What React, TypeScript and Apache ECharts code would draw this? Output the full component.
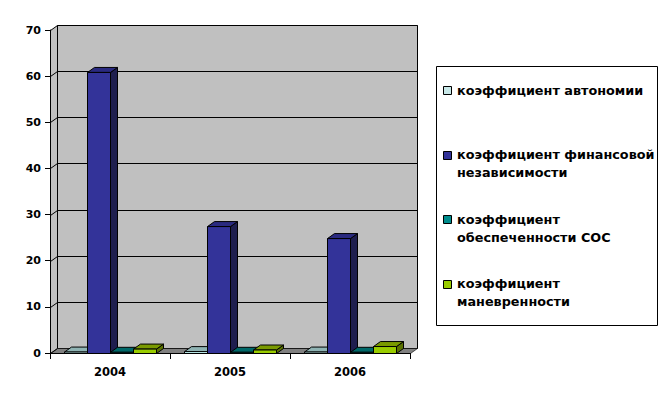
import React, { useEffect, useRef } from "react";
import * as echarts from "echarts";

const categories = ["2004", "2005", "2006"];
const yTicks = [0, 10, 20, 30, 40, 50, 60, 70];
const seriesNames = [
  "коэффициент автономии",
  "коэффициент финансовой\nнезависимости",
  "коэффициент\nобеспеченности СОС",
  "коэффициент\nманевренности",
];
const autonomy = [0.2, 0.3, 0.2];
const finIndependence = [60.8, 27.4, 24.8];
const sosProvision = [0.15, 0.15, 0.15];
const maneuverability = [0.85, 0.65, 1.4];

const seriesValues = [autonomy, finIndependence, sosProvision, maneuverability];
const faceColors = [
  { front: "#CCFFFF", top: "#8FB3B3", side: "#6F9393", legend: "#C8E8E8" },
  { front: "#333399", top: "#2A2A80", side: "#1E1E4E", legend: "#333399" },
  { front: "#008080", top: "#006868", side: "#004C4C", legend: "#008C8C" },
  { front: "#99CC00", top: "#7A9A00", side: "#5A7200", legend: "#99CC00" },
];

const DX = 7;
const DY = 5;
const FONT = "DejaVu Sans";

export default function App() {
  const ref = useRef<HTMLDivElement>(null);
  useEffect(() => {
    if (!ref.current) return;
    const chart = echarts.init(ref.current, null, { renderer: "svg" });

    const wallSeries = {
      type: "custom",
      name: "wall",
      z: 0,
      silent: true,
      data: [[0, 0]],
      renderItem: (params: any, api: any) => {
        const cs = params.coordSys;
        const x0 = Math.round(cs.x) + 0.5;
        const x1 = Math.round(cs.x + cs.width) + 0.5;
        const yTop = Math.round(api.coord([0, yTicks[yTicks.length - 1]])[1]) + 0.5;
        const yBot = Math.round(api.coord([0, 0])[1]) + 0.5;
        const children: any[] = [];
        children.push({
          type: "polygon",
          shape: { points: [[x0, yTop], [x0 + DX, yTop - DY], [x0 + DX, yBot - DY], [x0, yBot]] },
          style: { fill: "#C0C0C0", stroke: null },
        });
        children.push({
          type: "rect",
          shape: { x: x0 + DX, y: yTop - DY, width: x1 - x0, height: yBot - yTop },
          style: { fill: "#C0C0C0", stroke: "#000", lineWidth: 1 },
        });
        children.push({
          type: "polygon",
          shape: { points: [[x0, yBot], [x0 + DX, yBot - DY], [x1 + DX, yBot - DY], [x1, yBot]] },
          style: { fill: "#808080", stroke: "#000", lineWidth: 0.6 },
        });
        yTicks.forEach((v) => {
          const y = Math.round(api.coord([0, v])[1]) + 0.5;
          children.push({
            type: "line",
            shape: { x1: x0, y1: y, x2: x0 + DX, y2: y - DY },
            style: { stroke: "#000", lineWidth: 1 },
          });
          if (v !== 0) {
            children.push({
              type: "line",
              shape: { x1: x0 + DX, y1: y - DY, x2: x1 + DX, y2: y - DY },
              style: { stroke: "#000", lineWidth: 1 },
            });
          }
        });
        return { type: "group", children };
      },
    };

    const barSeries = seriesValues.map((vals, si) => ({
      type: "custom",
      name: seriesNames[si],
      z: 3,
      data: vals.map((v, ci) => [ci, v]),
      renderItem: (_params: any, api: any) => {
        const ci = api.value(0);
        const v = api.value(1);
        const [cx, yv0] = api.coord([ci, v]);
        const y0 = Math.round(api.coord([ci, 0])[1]) + 0.5;
        const yv = Math.min(yv0, y0 - 0.2);
        const catW = api.size([1, 0])[0];
        const bw = catW * 0.19;
        const left = Math.round(cx + (si - 2) * bw) + 0.5;
        const right = Math.round(cx + (si - 1) * bw) + 0.5;
        const c = faceColors[si];
        const stroke = { stroke: "#000", lineWidth: 1, lineJoin: "miter" };
        return {
          type: "group",
          children: [
            {
              type: "polygon",
              shape: { points: [[right, yv], [right + DX, yv - DY], [right + DX, y0 - DY], [right, y0]] },
              style: { fill: c.side, ...stroke },
            },
            {
              type: "polygon",
              shape: { points: [[left, yv], [right, yv], [right + DX, yv - DY], [left + DX, yv - DY]] },
              style: { fill: c.top, ...stroke },
            },
            {
              type: "rect",
              shape: { x: left, y: yv, width: right - left, height: y0 - yv },
              style: { fill: c.front, ...stroke },
            },
          ],
        };
      },
    }));

    const legendX = 436;
    const legendLine1 = [90, 154.5, 219, 283.5];
    const legendGraphics: any[] = [
      {
        type: "rect",
        shape: { x: 436.5, y: 66.5, width: 221, height: 259 },
        style: { fill: "#fff", stroke: "#000", lineWidth: 1 },
      },
    ];
    seriesNames.forEach((name, i) => {
      const cy = legendLine1[i];
      legendGraphics.push({
        type: "rect",
        shape: { x: legendX + 7.5, y: Math.round(cy - 4) + 0.5, width: 8, height: 8 },
        style: { fill: faceColors[i].legend, stroke: "#000", lineWidth: 1 },
      });
      legendGraphics.push({
        type: "text",
        x: legendX + 21,
        y: cy - 9,
        style: {
          text: name,
          fill: "#000",
          fontFamily: FONT,
          fontWeight: "bold",
          fontSize: 12.8,
          lineHeight: 18,
          verticalAlign: "top",
          align: "left",
        },
      });
    });

    chart.setOption({
      animation: false,
      backgroundColor: "#fff",
      grid: { left: 50, top: 30, right: 258, bottom: 47 },
      xAxis: {
        type: "category",
        data: categories,
        z: 10,
        axisLine: { show: true, lineStyle: { color: "#000", width: 1 } },
        axisTick: { show: true, length: 6, lineStyle: { color: "#000" } },
        axisLabel: {
          margin: 13,
          color: "#000",
          fontFamily: FONT,
          fontWeight: "bold",
          fontSize: 11.5,
        },
        splitLine: { show: false },
      },
      yAxis: {
        type: "value",
        min: 0,
        max: 70,
        interval: 10,
        z: 10,
        axisLine: { show: true, lineStyle: { color: "#000", width: 1 } },
        axisTick: { show: true, length: 5, lineStyle: { color: "#000" } },
        axisLabel: {
          margin: 9,
          color: "#000",
          fontFamily: FONT,
          fontWeight: "bold",
          fontSize: 11,
        },
        splitLine: { show: false },
      },
      series: [wallSeries, ...barSeries],
      graphic: legendGraphics,
    });

    return () => chart.dispose();
  }, []);

  return (
    <div
      ref={ref}
      style={{ position: "absolute", left: 0, top: 0, width: 668, height: 400 }}
    />
  );
}
